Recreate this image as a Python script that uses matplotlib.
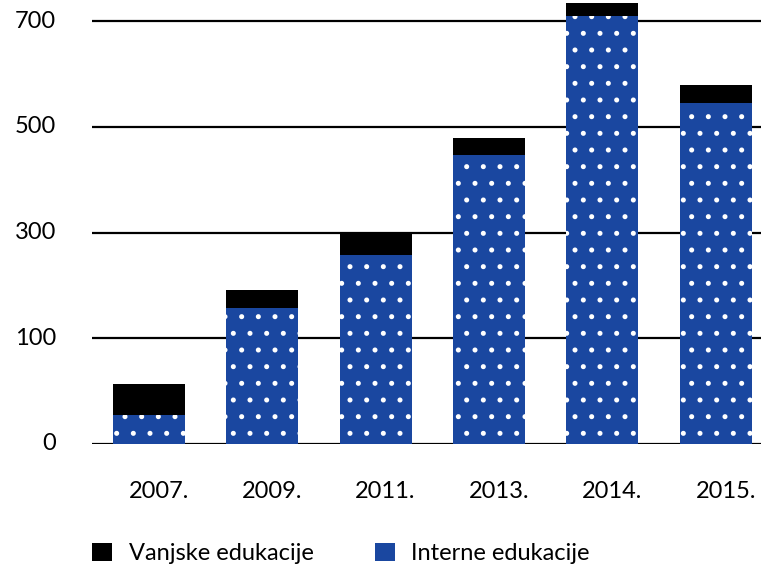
import matplotlib.pyplot as plt
from matplotlib.patches import Patch
from matplotlib.transforms import ScaledTranslation
import numpy as np

plt.rcParams['font.family'] = ['Lato', 'DejaVu Sans']
plt.rcParams['hatch.linewidth'] = 1.2

years = ['2007.', '2009.', '2011.', '2013.', '2014.', '2015.']
interne = [55, 258, 357, 547, 809, 645]
vanjske = [58, 34, 43, 32, 25, 34]

tick_vals = [0, 200, 400, 600, 800]
tick_labels = ['0', '100', '300', '500', '700']

blue = '#1a47a0'

fig = plt.figure(figsize=(7.61, 5.64), dpi=100)
ax = fig.add_axes([0.121, 0.2128, 0.879, 0.7872])

x = np.arange(len(years))
ax.bar(x, interne, width=0.635, color=blue, edgecolor='white', linewidth=0,
       hatch='.', zorder=2)
ax.bar(x, vanjske, width=0.635, bottom=interne, color='black', linewidth=0,
       zorder=2)

ax.set_xlim(-0.5, 5.4)
ax.set_ylim(0, 840)
ax.set_yticks(tick_vals)
ax.set_yticklabels(tick_labels)
ax.set_xticks(x)
ax.set_xticklabels(years)
ax.grid(axis='y', color='black', linewidth=1.6, zorder=0)
ax.set_axisbelow(True)
for s in ax.spines.values():
    s.set_visible(False)
ax.tick_params(axis='both', length=0, labelsize=17)
ax.tick_params(axis='y', pad=26)
ax.tick_params(axis='x', pad=27)
for lab in ax.get_yticklabels():
    lab.set_verticalalignment('center')
shift = ScaledTranslation(10 / 100, 0, fig.dpi_scale_trans)
for lab in ax.get_xticklabels():
    lab.set_transform(lab.get_transform() + shift)

handles = [Patch(facecolor='black', label='Vanjske edukacije'),
           Patch(facecolor=blue, label='Interne edukacije')]
fig.legend(handles=handles, loc='lower left', bbox_to_anchor=(0.093, -0.038),
           ncol=2, frameon=False, fontsize=17, handlelength=0.85,
           handleheight=0.85, handletextpad=0.7, columnspacing=2.6)

plt.savefig('out.png', dpi=100)
